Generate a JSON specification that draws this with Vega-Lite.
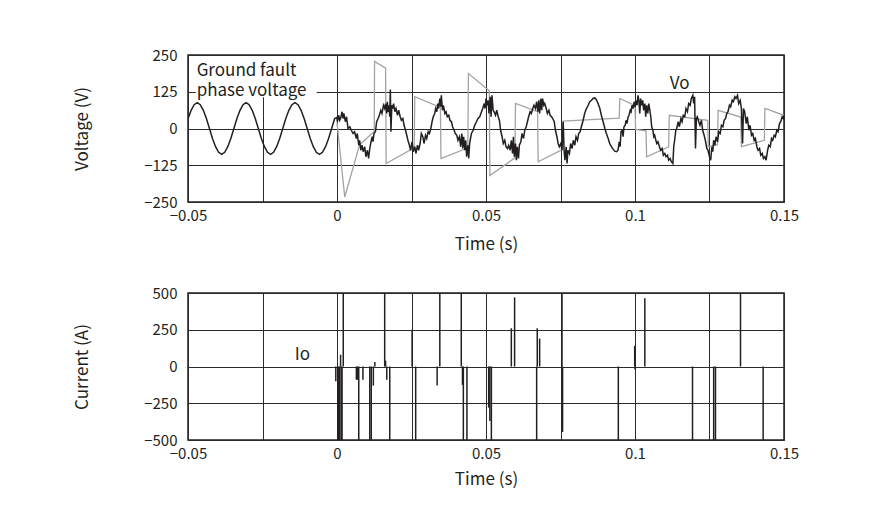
{
 "$schema": "https://vega.github.io/schema/vega-lite/v6.json",
 "background": "white",
 "padding": {"left": 72, "top": 47, "right": 5, "bottom": 5},
 "spacing": 91,
 "bounds": "flush",
 "datasets": {
  "black": [
   {"t":-0.05,"v":33},{"t":-0.04895,"v":62},{"t":-0.04793,"v":81},{"t":-0.0469,"v":88},{"t":-0.04588,"v":81},{"t":-0.04485,"v":62},{"t":-0.04383,"v":34},{"t":-0.0428,"v":0},{"t":-0.04178,"v":-34},{"t":-0.04075,"v":-62},{"t":-0.03973,"v":-81},{"t":-0.0387,"v":-88},{"t":-0.03768,"v":-81},{"t":-0.03665,"v":-62},{"t":-0.03563,"v":-34},{"t":-0.0346,"v":0},{"t":-0.03358,"v":34},{"t":-0.03255,"v":62},{"t":-0.03153,"v":81},{"t":-0.0305,"v":88},{"t":-0.02948,"v":81},{"t":-0.02845,"v":62},{"t":-0.02743,"v":34},{"t":-0.0264,"v":0},{"t":-0.02538,"v":-34},{"t":-0.02435,"v":-62},{"t":-0.02333,"v":-81},{"t":-0.0223,"v":-88},{"t":-0.02128,"v":-81},{"t":-0.02025,"v":-62},{"t":-0.01923,"v":-34},{"t":-0.0182,"v":0},{"t":-0.01718,"v":34},{"t":-0.01615,"v":62},{"t":-0.01513,"v":81},{"t":-0.0141,"v":88},{"t":-0.01308,"v":81},{"t":-0.01205,"v":62},{"t":-0.01103,"v":34},{"t":-0.01,"v":0},{"t":-0.00898,"v":-34},{"t":-0.00795,"v":-62},{"t":-0.00693,"v":-81},{"t":-0.0059,"v":-88},{"t":-0.00488,"v":-81},{"t":-0.00385,"v":-62},{"t":-0.00283,"v":-34},{"t":-0.0018,"v":0},{"t":-0.00078,"v":34},
   {"t":0.0,"v":38},{"t":0.0001,"v":23},{"t":0.0006,"v":45},{"t":0.0009,"v":28},{"t":0.0012,"v":34},{"t":0.0017,"v":57},{"t":0.002,"v":34},{"t":0.0023,"v":51},{"t":0.0028,"v":23},{"t":0.0032,"v":40},{"t":0.0037,"v":0},{"t":0.0043,"v":6},{"t":0.0048,"v":-6},{"t":0.0054,"v":-17},{"t":0.0059,"v":-11},{"t":0.0065,"v":-34},{"t":0.0068,"v":-17},{"t":0.0073,"v":-57},{"t":0.0076,"v":-40},{"t":0.008,"v":-74},{"t":0.0084,"v":-57},{"t":0.0088,"v":-79},{"t":0.0093,"v":-62},{"t":0.0097,"v":-96},{"t":0.0102,"v":-74},{"t":0.0106,"v":-102},{"t":0.011,"v":-68},{"t":0.0113,"v":-51},{"t":0.0118,"v":-28},{"t":0.0121,"v":-45},{"t":0.0124,"v":-17},{"t":0.0129,"v":-11},{"t":0.0133,"v":23},{"t":0.0138,"v":34},{"t":0.0142,"v":45},{"t":0.0147,"v":62},{"t":0.0151,"v":51},{"t":0.0156,"v":79},{"t":0.016,"v":68},{"t":0.0163,"v":85},{"t":0.0167,"v":51},{"t":0.0169,"v":91},{"t":0.0171,"v":57},{"t":0.0175,"v":79},{"t":0.0177,"v":40},{"t":0.0179,"v":133},{"t":0.0181,"v":-11},{"t":0.0184,"v":79},{"t":0.0187,"v":68},{"t":0.019,"v":85},{"t":0.0194,"v":57},{"t":0.0198,"v":68},{"t":0.0203,"v":45},{"t":0.0207,"v":62},{"t":0.0212,"v":40},{"t":0.0216,"v":28},{"t":0.0221,"v":34},{"t":0.0225,"v":11},{"t":0.023,"v":-6},{"t":0.0234,"v":-23},{"t":0.0238,"v":-40},{"t":0.0243,"v":-57},{"t":0.0247,"v":-74},{"t":0.0252,"v":-45},{"t":0.0256,"v":-79},{"t":0.0261,"v":-62},{"t":0.0265,"v":-85},{"t":0.027,"v":-57},{"t":0.0274,"v":-74},{"t":0.0279,"v":-51},{"t":0.0283,"v":-17},{"t":0.0288,"v":-28},{"t":0.0292,"v":-51},{"t":0.0297,"v":-23},{"t":0.0301,"v":-34},{"t":0.0306,"v":-11},{"t":0.031,"v":-17},{"t":0.0315,"v":0},{"t":0.0319,"v":23},{"t":0.0323,"v":40},{"t":0.0328,"v":51},{"t":0.0331,"v":68},{"t":0.0335,"v":57},{"t":0.0338,"v":85},{"t":0.0341,"v":68},{"t":0.0345,"v":102},{"t":0.0348,"v":74},{"t":0.035,"v":113},{"t":0.0354,"v":62},{"t":0.0357,"v":79},{"t":0.0362,"v":51},{"t":0.0366,"v":57},{"t":0.037,"v":40},{"t":0.0375,"v":45},{"t":0.0379,"v":28},{"t":0.0384,"v":23},{"t":0.0388,"v":6},{"t":0.0393,"v":-6},{"t":0.0397,"v":-17},{"t":0.0402,"v":-23},{"t":0.0406,"v":-40},{"t":0.0411,"v":-28},{"t":0.0415,"v":-62},{"t":0.0419,"v":-17},{"t":0.0422,"v":-68},{"t":0.0425,"v":-28},{"t":0.0429,"v":-74},{"t":0.0432,"v":-40},{"t":0.0435,"v":-96},{"t":0.0439,"v":-57},{"t":0.0442,"v":-102},{"t":0.0445,"v":-51},{"t":0.0451,"v":-17},{"t":0.0457,"v":-6},{"t":0.0462,"v":11},{"t":0.0468,"v":23},{"t":0.0473,"v":34},{"t":0.0479,"v":40},{"t":0.0485,"v":57},{"t":0.0489,"v":68},{"t":0.0494,"v":85},{"t":0.0497,"v":68},{"t":0.05,"v":102},{"t":0.0504,"v":79},{"t":0.0507,"v":96},
   {"t":0.051,"v":51},{"t":0.0514,"v":108},{"t":0.0517,"v":40},{"t":0.052,"v":113},{"t":0.0524,"v":62},{"t":0.0527,"v":57},{"t":0.0532,"v":45},{"t":0.0536,"v":62},{"t":0.0541,"v":40},{"t":0.0545,"v":28},{"t":0.0549,"v":-6},{"t":0.0554,"v":-28},{"t":0.0558,"v":-51},{"t":0.0563,"v":-40},{"t":0.0567,"v":-62},{"t":0.0572,"v":-68},{"t":0.0576,"v":-57},{"t":0.0581,"v":-74},{"t":0.0585,"v":-40},{"t":0.0589,"v":-85},{"t":0.0592,"v":-28},{"t":0.0595,"v":-96},{"t":0.0599,"v":-51},{"t":0.0602,"v":-108},{"t":0.0605,"v":-62},{"t":0.0609,"v":-102},{"t":0.0612,"v":-57},{"t":0.0617,"v":-45},{"t":0.0621,"v":-17},{"t":0.0626,"v":-34},{"t":0.063,"v":-6},{"t":0.0635,"v":6},{"t":0.0639,"v":23},{"t":0.0643,"v":40},{"t":0.0648,"v":57},{"t":0.0652,"v":51},{"t":0.0657,"v":68},{"t":0.0661,"v":79},{"t":0.0666,"v":68},{"t":0.067,"v":91},{"t":0.0674,"v":57},{"t":0.0677,"v":96},{"t":0.068,"v":51},{"t":0.0684,"v":102},{"t":0.0687,"v":62},{"t":0.069,"v":102},{"t":0.0694,"v":79},{"t":0.0697,"v":85},{"t":0.0702,"v":68},{"t":0.0706,"v":51},{"t":0.0711,"v":62},{"t":0.0715,"v":45},{"t":0.072,"v":40},{"t":0.0724,"v":34},{"t":0.0729,"v":23},{"t":0.0733,"v":-6},{"t":0.0738,"v":-28},{"t":0.0742,"v":-51},{"t":0.0746,"v":-62},{"t":0.0751,"v":-51},{"t":0.0755,"v":-74},{"t":0.0759,"v":23},{"t":0.0762,"v":-74},{"t":0.0765,"v":-108},{"t":0.0769,"v":-62},{"t":0.0772,"v":-119},{"t":0.0775,"v":-74},{"t":0.078,"v":-85},{"t":0.0784,"v":-51},{"t":0.0789,"v":-68},{"t":0.0793,"v":-40},{"t":0.0798,"v":-57},{"t":0.0802,"v":-28},{"t":0.0807,"v":-40},{"t":0.0811,"v":-17},{"t":0.0816,"v":-11},{"t":0.082,"v":6},{"t":0.0826,"v":28},{"t":0.0831,"v":51},{"t":0.0837,"v":68},{"t":0.0843,"v":79},{"t":0.0848,"v":91},{"t":0.0854,"v":96},{"t":0.0859,"v":102},{"t":0.0865,"v":104},{"t":0.087,"v":99},{"t":0.0876,"v":85},{"t":0.0882,"v":68},{"t":0.0887,"v":45},{"t":0.0893,"v":23},{"t":0.0899,"v":0},{"t":0.0904,"v":-17},{"t":0.091,"v":-34},{"t":0.0915,"v":-51},{"t":0.0921,"v":-62},{"t":0.0927,"v":-71},{"t":0.0932,"v":-77},{"t":0.0938,"v":-79},{"t":0.0943,"v":-74},{"t":0.0947,"v":-45},{"t":0.095,"v":-62},{"t":0.0953,"v":-11},{"t":0.0957,"v":-6},{"t":0.096,"v":-28},{"t":0.0963,"v":6},{"t":0.0967,"v":11},{"t":0.097,"v":28},{"t":0.0973,"v":17},{"t":0.0977,"v":40},{"t":0.098,"v":45},{"t":0.0984,"v":62},{"t":0.0987,"v":57},{"t":0.099,"v":79},{"t":0.0994,"v":68},{"t":0.0997,"v":91},{"t":0.1,"v":74},{"t":0.1004,"v":96},{"t":0.1007,"v":79},{"t":0.101,"v":113},
   {"t":0.1013,"v":96},{"t":0.1016,"v":51},{"t":0.1019,"v":102},{"t":0.1023,"v":79},{"t":0.1026,"v":96},{"t":0.1029,"v":62},{"t":0.1033,"v":85},{"t":0.1036,"v":40},{"t":0.1039,"v":79},{"t":0.1043,"v":51},{"t":0.1046,"v":85},{"t":0.1049,"v":68},{"t":0.1053,"v":40},{"t":0.1056,"v":6},{"t":0.106,"v":-6},{"t":0.1063,"v":-28},{"t":0.1066,"v":-23},{"t":0.107,"v":-40},{"t":0.1073,"v":-51},{"t":0.1077,"v":-45},{"t":0.1082,"v":-62},{"t":0.1086,"v":-74},{"t":0.1091,"v":-68},{"t":0.1095,"v":-91},{"t":0.11,"v":-85},{"t":0.1104,"v":-96},{"t":0.1109,"v":-91},{"t":0.1113,"v":-108},{"t":0.1118,"v":-102},{"t":0.1122,"v":-113},{"t":0.1127,"v":-119},{"t":0.113,"v":-62},{"t":0.1133,"v":-40},{"t":0.1137,"v":-6},{"t":0.114,"v":0},{"t":0.1145,"v":23},{"t":0.1149,"v":6},{"t":0.1154,"v":34},{"t":0.1158,"v":23},{"t":0.1162,"v":45},{"t":0.1167,"v":40},{"t":0.1171,"v":68},{"t":0.1176,"v":57},{"t":0.118,"v":85},{"t":0.1185,"v":79},{"t":0.1189,"v":102},{"t":0.1194,"v":113},{"t":0.1197,"v":85},{"t":0.12,"v":108},{"t":0.1203,"v":-68},{"t":0.1206,"v":34},{"t":0.1209,"v":40},{"t":0.1214,"v":23},{"t":0.1218,"v":11},{"t":0.1223,"v":28},{"t":0.1227,"v":-6},{"t":0.1232,"v":-23},{"t":0.1236,"v":-40},{"t":0.1241,"v":-68},{"t":0.1245,"v":-74},{"t":0.125,"v":-96},{"t":0.1254,"v":-108},{"t":0.1258,"v":-62},{"t":0.1261,"v":-79},{"t":0.1264,"v":-40},{"t":0.1268,"v":-57},{"t":0.1272,"v":-28},{"t":0.1277,"v":-45},{"t":0.1281,"v":-11},{"t":0.1286,"v":-17},{"t":0.129,"v":11},{"t":0.1295,"v":6},{"t":0.1299,"v":28},{"t":0.1304,"v":34},{"t":0.1308,"v":51},{"t":0.1312,"v":57},{"t":0.1317,"v":79},{"t":0.1321,"v":74},{"t":0.1326,"v":96},{"t":0.133,"v":91},{"t":0.1335,"v":108},{"t":0.1339,"v":102},{"t":0.1344,"v":113},{"t":0.1348,"v":85},{"t":0.1353,"v":96},{"t":0.1357,"v":68},{"t":0.1361,"v":-51},{"t":0.1364,"v":68},{"t":0.1368,"v":57},{"t":0.1373,"v":17},{"t":0.1377,"v":40},{"t":0.1382,"v":-6},{"t":0.1386,"v":11},{"t":0.1391,"v":-23},{"t":0.1395,"v":-17},{"t":0.14,"v":-40},{"t":0.1404,"v":-34},{"t":0.1409,"v":-62},{"t":0.1413,"v":-74},{"t":0.1418,"v":-68},{"t":0.1422,"v":-91},{"t":0.1427,"v":-85},{"t":0.1431,"v":-102},{"t":0.1436,"v":-96},{"t":0.144,"v":-108},{"t":0.1445,"v":-74},{"t":0.1449,"v":-57},{"t":0.1454,"v":-62},{"t":0.1458,"v":-34},{"t":0.1462,"v":-40},{"t":0.1467,"v":-23},{"t":0.1471,"v":-28},{"t":0.1476,"v":-6},{"t":0.148,"v":-11},{"t":0.1485,"v":17},{"t":0.1489,"v":23},{"t":0.1494,"v":40},{"t":0.1498,"v":34},{"t":0.15,"v":45}
  ],
  "gray": [
   {"t":0.0,"v":20},{"t":0.0026,"v":-233},{"t":0.0076,"v":-55},{"t":0.0125,"v":-10},{"t":0.0126,"v":228},{"t":0.0163,"v":205},{"t":0.0165,"v":-119},{"t":0.0259,"v":-66},{"t":0.0261,"v":108},{"t":0.0347,"v":72},{"t":0.0349,"v":-102},{"t":0.0439,"v":-66},{"t":0.0441,"v":187},{"t":0.0511,"v":128},{"t":0.0513,"v":-160},{"t":0.0597,"v":-100},{"t":0.0599,"v":85},{"t":0.0673,"v":57},{"t":0.0675,"v":-113},{"t":0.0756,"v":-72},{"t":0.0758,"v":25},{"t":0.0947,"v":35},{"t":0.0949,"v":102},{"t":0.1,"v":78},{"t":0.1002,"v":-3},{"t":0.1037,"v":-8},{"t":0.1039,"v":-96},{"t":0.1113,"v":-62},{"t":0.1115,"v":45},{"t":0.1244,"v":28},{"t":0.1246,"v":-62},{"t":0.1277,"v":-55},{"t":0.1279,"v":62},{"t":0.1355,"v":39},{"t":0.1357,"v":-62},{"t":0.1434,"v":-40},{"t":0.1436,"v":68},{"t":0.15,"v":45}
  ],
  "io": [
   {"t":-0.0004,"i":-100},{"t":0.0003,"i":-500},{"t":0.0006,"i":-500},{"t":0.0009,"i":-500},{"t":0.0012,"i":80},{"t":0.0014,"i":-500},{"t":0.0017,"i":-500},{"t":0.0021,"i":500},
   {"t":0.0065,"i":-90},{"t":0.0069,"i":-90},{"t":0.0073,"i":-500},{"t":0.0087,"i":-90},{"t":0.011,"i":-500},{"t":0.0115,"i":-500},{"t":0.0122,"i":-130},{"t":0.0127,"i":30},
   {"t":0.016,"i":500},{"t":0.0163,"i":40},{"t":0.0167,"i":-90},{"t":0.0177,"i":-500},{"t":0.0252,"i":250},{"t":0.0264,"i":-500},{"t":0.0336,"i":-130},{"t":0.0345,"i":500},
   {"t":0.0417,"i":500},{"t":0.0421,"i":-125},{"t":0.0424,"i":-500},{"t":0.0436,"i":-500},{"t":0.0509,"i":-280},{"t":0.0513,"i":-370},{"t":0.0518,"i":-500},
   {"t":0.0585,"i":260},{"t":0.0596,"i":470},{"t":0.067,"i":-500},{"t":0.0672,"i":260},{"t":0.068,"i":190},{"t":0.0755,"i":500},{"t":0.0757,"i":-445},
   {"t":0.0944,"i":-500},{"t":0.0999,"i":140},{"t":0.1,"i":-20},{"t":0.1033,"i":465},{"t":0.1193,"i":-500},{"t":0.1264,"i":-500},{"t":0.127,"i":-500},{"t":0.1354,"i":500},{"t":0.143,"i":-500}
  ]
 },
 "vconcat": [
  {
   "width": 596,
   "height": 147,
   "encoding": {
    "x": {"type": "quantitative", "scale": {"domain": [-0.05, 0.15], "nice": false, "zero": false},
          "axis": {"title": "Time (s)", "values": [-0.05,-0.025,0,0.025,0.05,0.075,0.1,0.125,0.15], "format": "~g", "labelExpr": "round(datum.value*1000) % 50 == 0 ? datum.label : ''", "labelFlush": false, "labelOverlap": false, "labelPadding": 6, "titlePadding": 13}},
    "y": {"type": "quantitative", "scale": {"domain": [-250, 250], "nice": false},
          "axis": {"title": "Voltage (V)", "values": [-250,-125,0,125,250], "labelPadding": 11, "titlePadding": 52}}
   },
   "layer": [
    {
     "data": {"name": "gray"},
     "mark": {"type": "line", "color": "#a3a3a3", "strokeWidth": 1.3, "clip": true},
     "encoding": {"x": {"field": "t"}, "y": {"field": "v"}}
    },
    {
     "data": {"values": [{"a": 1}]},
     "mark": {"type": "rect", "fill": "white", "strokeWidth": 0},
     "encoding": {"x": {"datum": -0.0474}, "x2": {"datum": -0.0068}, "y": {"datum": 106}, "y2": {"datum": 247}}
    },
    {
     "data": {"name": "black"},
     "mark": {"type": "line", "color": "#231f20", "strokeWidth": 1.5, "clip": true},
     "encoding": {"x": {"field": "t"}, "y": {"field": "v"}}
    },
    {
     "data": {"values": [{"a": 1}]},
     "mark": {"type": "text", "text": ["Ground fault", "phase voltage"], "align": "left", "baseline": "alphabetic", "font": "Noto Sans CJK JP", "fontSize": 17, "lineHeight": 19.5, "color": "#231f20"},
     "encoding": {"x": {"datum": -0.0471}, "y": {"datum": 177}}
    },
    {
     "data": {"values": [{"a": 1}]},
     "mark": {"type": "text", "text": "Vo", "align": "center", "baseline": "alphabetic", "font": "Noto Sans CJK JP", "fontSize": 17, "color": "#231f20"},
     "encoding": {"x": {"datum": 0.115}, "y": {"datum": 136}}
    }
   ]
  },
  {
   "width": 596,
   "height": 147,
   "encoding": {
    "x": {"type": "quantitative", "scale": {"domain": [-0.05, 0.15], "nice": false, "zero": false},
          "axis": {"title": "Time (s)", "values": [-0.05,-0.025,0,0.025,0.05,0.075,0.1,0.125,0.15], "format": "~g", "labelExpr": "round(datum.value*1000) % 50 == 0 ? datum.label : ''", "labelFlush": false, "labelOverlap": false, "labelPadding": 6, "titlePadding": 10}},
    "y": {"type": "quantitative", "scale": {"domain": [-500, 500], "nice": false},
          "axis": {"title": "Current (A)", "values": [-500,-250,0,250,500], "labelPadding": 11, "titlePadding": 52}}
   },
   "layer": [
    {
     "data": {"name": "io"},
     "mark": {"type": "rule", "color": "#231f20", "strokeWidth": 1.5},
     "encoding": {"x": {"field": "t"}, "y": {"field": "i"}, "y2": {"datum": 0}}
    },
    {
     "data": {"values": [{"a": 1}]},
     "mark": {"type": "text", "text": "Io", "align": "center", "baseline": "alphabetic", "font": "Noto Sans CJK JP", "fontSize": 17, "color": "#231f20"},
     "encoding": {"x": {"datum": -0.0116}, "y": {"datum": 43}}
    }
   ]
  }
 ],
 "config": {
  "font": "Noto Sans CJK JP",
  "view": {"stroke": "#231f20", "strokeWidth": 1.5},
  "axis": {
   "domain": false, "ticks": false, "grid": true, "gridColor": "#2e2a2b", "gridOpacity": 1, "gridWidth": 1,
   "labelFont": "Noto Sans CJK JP", "labelFontSize": 15, "labelColor": "#231f20",
   "titleFont": "Noto Sans CJK JP", "titleFontSize": 17, "titleFontWeight": "normal", "titleColor": "#231f20"
  }
 }
}
